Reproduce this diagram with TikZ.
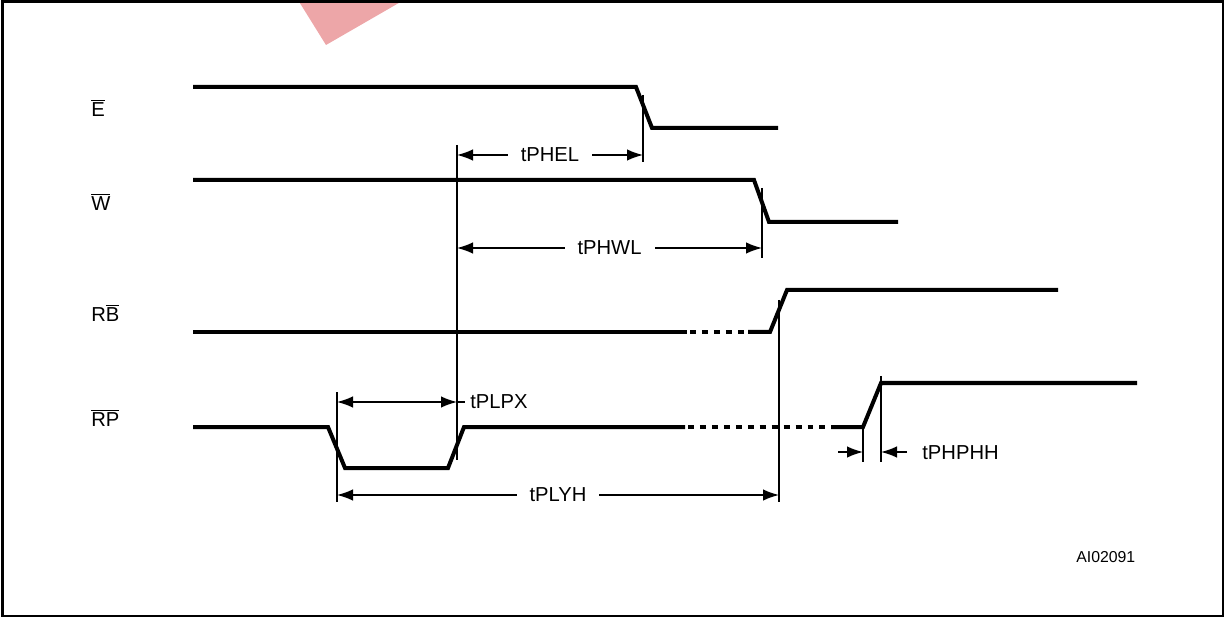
\documentclass[tikz,border=0pt]{standalone}
\usepackage{fontspec}
\setmainfont{Liberation Sans}
\usetikzlibrary{arrows.meta}
\definecolor{wmarkred}{RGB}{237,166,168}
\tikzset{
  sig/.style={line width=0.08cm},
  sigdash/.style={line width=0.08cm,dash pattern=on 3.4pt off 3.4pt},
  guide/.style={line width=0.04cm},
  dimline/.style={line width=0.03cm,{Latex[length=3.2mm,width=2.3mm]}-{Latex[length=3.2mm,width=2.3mm]}},
  dimin/.style={line width=0.03cm,-{Latex[length=3.2mm,width=2.3mm]}},
  dimlabel/.style={fill=white,inner xsep=0.26cm,inner ysep=1pt,font=\fontsize{11.5}{13}\selectfont},
  signame/.style={anchor=west,inner sep=0pt,font=\fontsize{11.5}{13}\selectfont},
  sidelabel/.style={anchor=west,inner sep=0pt,font=\fontsize{11.5}{13}\selectfont}
}
\begin{document}
\begin{tikzpicture}[x=0.2mm,y=-0.2mm]
\useasboundingbox (0,0) rectangle (1226,619);
% watermark corner and frame
\fill[wmarkred] (298,0) -- (326,45) -- (404,0) -- cycle;
\draw[line width=0.05cm] (2.5,1.5) rectangle (1223,616);

% signal names
\node[signame] (e) at (91,108) {$\overline{\mbox{E}}$};
\node[signame] (w) at (91,202) {$\overline{\mbox{W}}$};
\node[signame] (rb) at (91,313) {R$\overline{\mbox{B}}$};
\node[signame] (rp) at (91,418) {$\overline{\mbox{RP}}$};

% waveforms
\draw[sig] (193,87) -- (636,87) -- (652,128) -- (778,128);
\draw[sig] (193,180) -- (754,180) -- (769,222) -- (898,222);
\draw[sig] (193,332) -- (687,332);
\draw[sigdash] (690,332) -- (745,332);
\draw[sig] (748,332) -- (770,332) -- (787,290) -- (1058,290);
\draw[sig] (193,427) -- (328,427) -- (345,468) -- (448,468) -- (464,427) -- (685,427);
\draw[sigdash] (688,427) -- (828,427);
\draw[sig] (831,427) -- (863,427) -- (881,383) -- (1137,383);

% timing guides
\foreach \n/\x/\ya/\yb in {1/337/392/502, 2/457/145/460, 3/643/95/162,
    4/762/188/258, 5/779/300/502, 6/863/427/462, 7/881/376/462} {
  \coordinate (g\n t) at (\x,\ya);
  \coordinate (g\n b) at (\x,\yb);
  \draw[guide] (g\n t) -- (g\n b);
}

% rows of the dimension arrows
\coordinate (rowel) at (0,155);
\coordinate (rowwl) at (0,248);
\coordinate (rowpx) at (0,402);
\coordinate (rowyh) at (0,495);
\coordinate (phl) at (838,452);
\coordinate (phr) at (907,452);

\draw[dimline] (g2t |- rowel) -- node[dimlabel] (tphel) {tPHEL} (g3t |- rowel);
\draw[dimline] (g2t |- rowwl) -- node[dimlabel] (tphwl) {tPHWL} (g4t |- rowwl);
\draw[dimline] (g1t |- rowyh) -- node[dimlabel] (tplyh) {tPLYH} (g5t |- rowyh);
\draw[dimline] (g1t |- rowpx) -- (g2t |- rowpx);
\draw[line width=0.03cm] (g2t |- rowpx) -- ++(8,0);
\node[sidelabel] (tplpx) at (470,402) {tPLPX};
\draw[dimin] (phl) -- (g6t |- phl);
\draw[dimin] (phr) -- (g7t |- phr);
\node[sidelabel] (tphphh) at (922,453) {tPHPHH};

\node[sidelabel,font=\fontsize{9}{11}\selectfont] (code) at (1076,557) {AI02091};
\end{tikzpicture}
\end{document}
